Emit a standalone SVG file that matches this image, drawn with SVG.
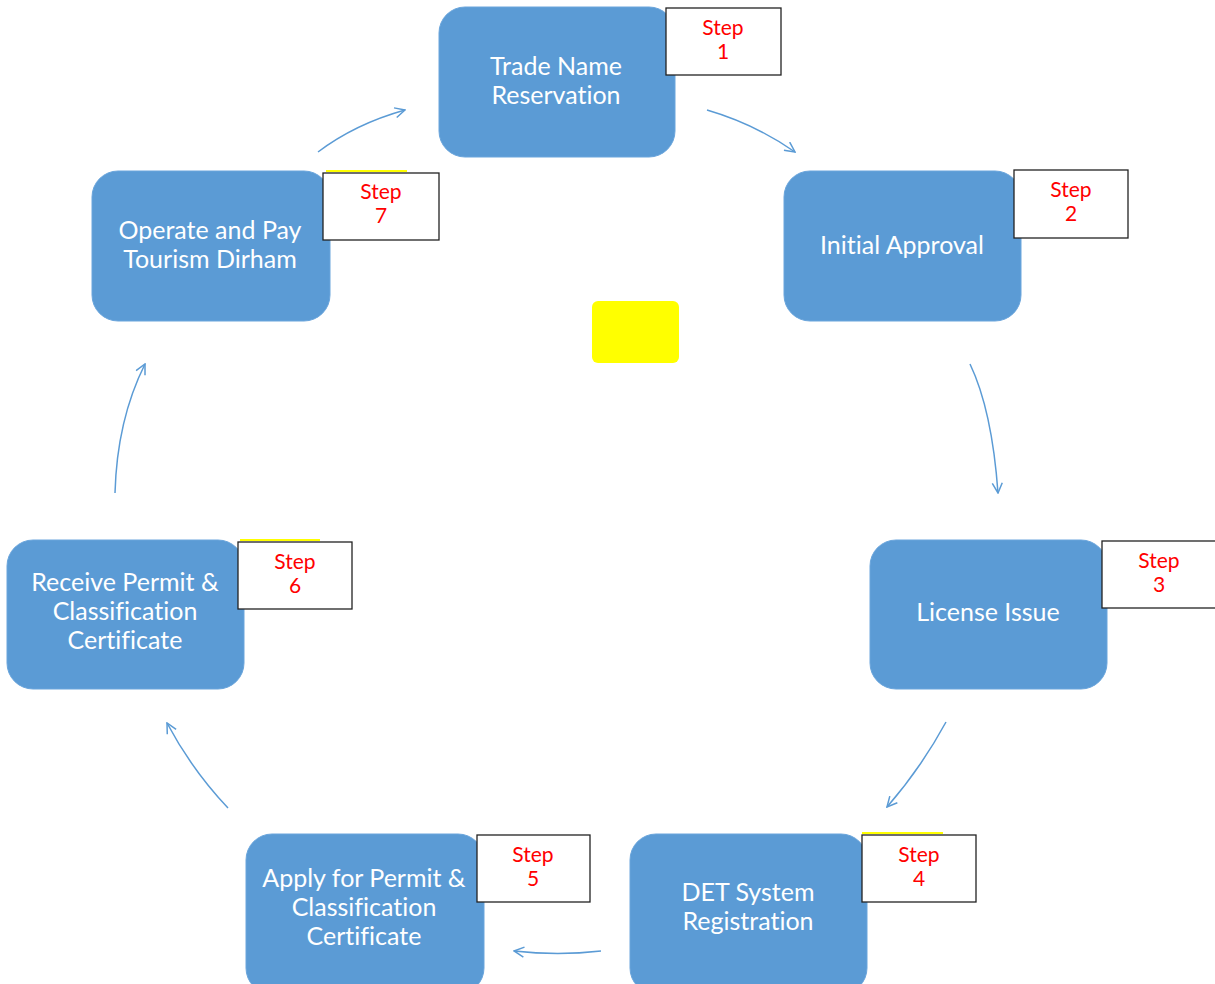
<svg xmlns="http://www.w3.org/2000/svg" width="1215" height="984" viewBox="0 0 1215 984">
<style>
.node{fill:#5B9BD5;stroke:#6aa5dc;stroke-width:1}
.nt{font-family:Lato,"Open Sans","Liberation Sans",sans-serif;font-size:25px;fill:#ffffff;text-anchor:middle;font-variant-ligatures:none}
.sb{fill:#ffffff;stroke:#222;stroke-width:1.3}
.st{font-family:Lato,"Liberation Sans",sans-serif;font-size:21px;fill:#ff0000;text-anchor:middle}
.yl{stroke:#ffff00;stroke-width:2}
.conn{fill:none;stroke:#5B9BD5;stroke-width:1.5;marker-end:url(#arr)}
</style>
<defs>
<marker id="arr" viewBox="0 0 12 12" refX="11" refY="6" markerWidth="12" markerHeight="12" markerUnits="userSpaceOnUse" orient="auto">
<path d="M1,1 L11,6 L1,11" fill="none" stroke="#5B9BD5" stroke-width="1.5"/>
</marker>
</defs>
<rect x="592" y="301" width="87" height="62" rx="6" fill="#ffff00"/>
<g id="connectors">
<path class="conn" d="M318,152 Q355,124 405,110"/>
<path class="conn" d="M707,110 Q755,124 795,152"/>
<path class="conn" d="M970,364 Q992,410 998,493"/>
<path class="conn" d="M946,722 Q921,768 887,807"/>
<path class="conn" d="M601,951 Q558,956 514,951"/>
<path class="conn" d="M228,808 Q192,770 167,723"/>
<path class="conn" d="M115,493 Q117,420 145,364"/>
</g>
<g id="node1">
<rect class="node" x="439" y="7" width="236" height="150" rx="26"/>
<text class="nt" x="556" y="75">Trade Name</text>
<text class="nt" x="556" y="104">Reservation</text>
</g>
<g id="step1">
<rect class="sb" x="666" y="8" width="115" height="67"/>
<text class="st" x="723" y="35">Step</text>
<text class="st" x="723" y="59">1</text>
</g>
<g id="node2">
<rect class="node" x="784" y="171" width="237" height="150" rx="26"/>
<text class="nt" x="902" y="254">Initial Approval</text>
</g>
<g id="step2">
<rect class="sb" x="1014" y="170" width="114" height="68"/>
<text class="st" x="1071" y="197">Step</text>
<text class="st" x="1071" y="221">2</text>
</g>
<g id="node3">
<rect class="node" x="870" y="540" width="237" height="149" rx="26"/>
<text class="nt" x="988" y="621">License Issue</text>
</g>
<g id="step3">
<rect class="sb" x="1102" y="541" width="115" height="67"/>
<text class="st" x="1159" y="568">Step</text>
<text class="st" x="1159" y="592">3</text>
</g>
<g id="node4">
<rect class="node" x="630" y="834" width="237" height="160" rx="26"/>
<text class="nt" x="748" y="901">DET System</text>
<text class="nt" x="748" y="930">Registration</text>
</g>
<g id="step4">
<line class="yl" x1="862" y1="833" x2="943" y2="833"/>
<rect class="sb" x="862" y="835" width="114" height="67"/>
<text class="st" x="919" y="862">Step</text>
<text class="st" x="919" y="886">4</text>
</g>
<g id="node5">
<rect class="node" x="246" y="834" width="238" height="160" rx="26"/>
<text class="nt" x="364" y="887">Apply for Permit &amp;</text>
<text class="nt" x="364" y="916">Classification</text>
<text class="nt" x="364" y="945">Certificate</text>
</g>
<g id="step5">
<rect class="sb" x="477" y="835" width="113" height="67"/>
<text class="st" x="533" y="862">Step</text>
<text class="st" x="533" y="886">5</text>
</g>
<g id="node6">
<rect class="node" x="7" y="540" width="237" height="149" rx="26"/>
<text class="nt" x="125" y="591">Receive Permit &amp;</text>
<text class="nt" x="125" y="620">Classification</text>
<text class="nt" x="125" y="649">Certificate</text>
</g>
<g id="step6">
<line class="yl" x1="240" y1="540" x2="320" y2="540"/>
<rect class="sb" x="238" y="542" width="114" height="67"/>
<text class="st" x="295" y="569">Step</text>
<text class="st" x="295" y="593">6</text>
</g>
<g id="node7">
<rect class="node" x="92" y="171" width="238" height="150" rx="26"/>
<text class="nt" x="210" y="239">Operate and Pay</text>
<text class="nt" x="210" y="268">Tourism Dirham</text>
</g>
<g id="step7">
<line class="yl" x1="326" y1="171" x2="407" y2="171"/>
<rect class="sb" x="323" y="173" width="116" height="67"/>
<text class="st" x="381" y="199">Step</text>
<text class="st" x="381" y="223">7</text>
</g>
</svg>
